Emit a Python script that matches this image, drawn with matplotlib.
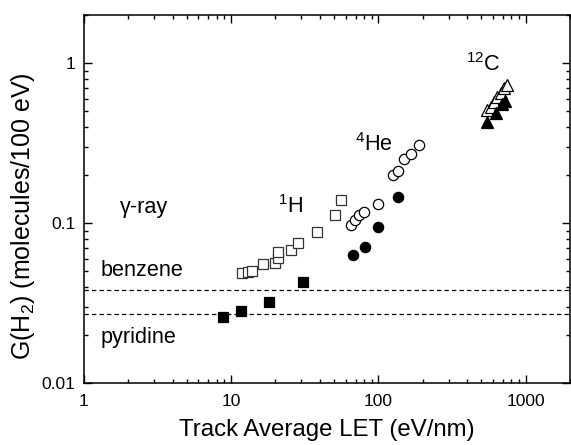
import matplotlib
matplotlib.use("Agg")
import matplotlib.pyplot as plt
from matplotlib.ticker import LogLocator, NullFormatter, FixedLocator, FixedFormatter

plt.rcParams['font.family'] = ['Liberation Sans', 'DejaVu Sans']
plt.rcParams['mathtext.fontset'] = 'custom'
plt.rcParams['mathtext.rm'] = 'Liberation Sans'
plt.rcParams['mathtext.it'] = 'Liberation Sans:italic'

# 1H, benzene (open squares)
h_benz_let = [11.8, 13.0, 13.9, 16.4, 19.9, 20.7, 20.9, 25.5, 28.3, 38.6, 50.4, 56.1]
h_benz_g = [0.049, 0.0497, 0.0502, 0.0552, 0.0566, 0.0608, 0.0663, 0.0679, 0.0754, 0.0879, 0.112, 0.140]
# 1H, pyridine (filled squares)
h_pyr_let = [8.87, 11.6, 18.0, 30.6]
h_pyr_g = [0.0259, 0.0281, 0.0322, 0.0431]
# 4He, benzene (open circles)
he_benz_let = [65.0, 69.5, 74.0, 80.0, 100, 126, 137, 149, 166, 190]
he_benz_g = [0.098, 0.105, 0.112, 0.118, 0.131, 0.199, 0.213, 0.252, 0.271, 0.310]
# 4He, pyridine (filled circles)
he_pyr_let = [67.7, 80.8, 100, 137]
he_pyr_g = [0.063, 0.0712, 0.0949, 0.145]
# 12C, benzene (open triangles)
c_benz_let = [548, 578, 609, 641, 676, 711, 749]
c_benz_g = [0.511, 0.535, 0.575, 0.618, 0.649, 0.698, 0.732]
# 12C, pyridine (filled triangles)
c_pyr_let = [545, 630, 690, 720]
c_pyr_g = [0.43, 0.49, 0.56, 0.58]

# gamma-ray reference values
gamma_benzene = 0.038
gamma_pyridine = 0.027

fig = plt.figure(figsize=(5.71, 4.45), dpi=100)
ax = fig.add_axes([0.147, 0.139, 0.851, 0.827])

ax.axhline(gamma_benzene, color='black', ls=(0, (3.5, 2.5)), lw=0.9)
ax.axhline(gamma_pyridine, color='black', ls=(0, (3.5, 2.5)), lw=0.9)

ax.plot(h_benz_let, h_benz_g, 's', ms=7.6, mfc='white', mec='#333333', mew=0.9, ls='none')
ax.plot(h_pyr_let, h_pyr_g, 's', ms=7.2, mfc='black', mec='black', mew=0.9, ls='none')
ax.plot(he_benz_let, he_benz_g, 'o', ms=7.4, mfc='white', mec='black', mew=0.9, ls='none')
ax.plot(he_pyr_let, he_pyr_g, 'o', ms=7.4, mfc='black', mec='black', mew=0.9, ls='none')
ax.plot(c_benz_let, c_benz_g, '^', ms=8.6, mfc='white', mec='black', mew=0.9, ls='none')
ax.plot(c_pyr_let, c_pyr_g, '^', ms=8.6, mfc='black', mec='black', mew=0.9, ls='none')

ax.set_xscale('log')
ax.set_yscale('log')
ax.set_xlim(1, 2000)
ax.set_ylim(0.01, 2)

ax.xaxis.set_major_locator(FixedLocator([1, 10, 100, 1000]))
ax.xaxis.set_major_formatter(FixedFormatter(['1', '10', '100', '1000']))
ax.yaxis.set_major_locator(FixedLocator([0.01, 0.1, 1]))
ax.yaxis.set_major_formatter(FixedFormatter(['0.01', '0.1', '1']))
ax.xaxis.set_minor_locator(LogLocator(base=10, subs=range(2, 10), numticks=20))
ax.yaxis.set_minor_locator(LogLocator(base=10, subs=range(2, 10), numticks=20))
ax.xaxis.set_minor_formatter(NullFormatter())
ax.yaxis.set_minor_formatter(NullFormatter())

ax.tick_params(which='both', direction='in', top=True, right=True, labelsize=12.5, width=1.0)
ax.tick_params(axis='x', which='major', length=5.5, pad=8)
ax.tick_params(axis='y', which='major', length=5.5, pad=6)
ax.tick_params(which='minor', length=3)
for s in ax.spines.values():
    s.set_linewidth(1.1)

ax.set_xlabel('Track Average LET (eV/nm)', fontsize=17.3)
ax.xaxis.set_label_coords(0.5, -0.098)
ax.set_ylabel('G(H$_2$) (molecules/100 eV)', fontsize=18)
ax.yaxis.set_label_coords(-0.097, 0.455)

tfs = 15.6
ax.text(1.75, 0.1155, 'γ-ray', fontsize=tfs, ha='left', va='baseline')
ax.text(1.30, 0.0469, 'benzene', fontsize=tfs, ha='left', va='baseline')
ax.text(1.30, 0.0178, 'pyridine', fontsize=tfs, ha='left', va='baseline')
ax.text(20.7, 0.1155, '$^{1}$H', fontsize=tfs, ha='left', va='baseline')
ax.text(69.6, 0.284, '$^{4}$He', fontsize=tfs, ha='left', va='baseline')
ax.text(392, 0.895, '$^{12}$C', fontsize=tfs, ha='left', va='baseline')

fig.savefig('out.png', dpi=100)
